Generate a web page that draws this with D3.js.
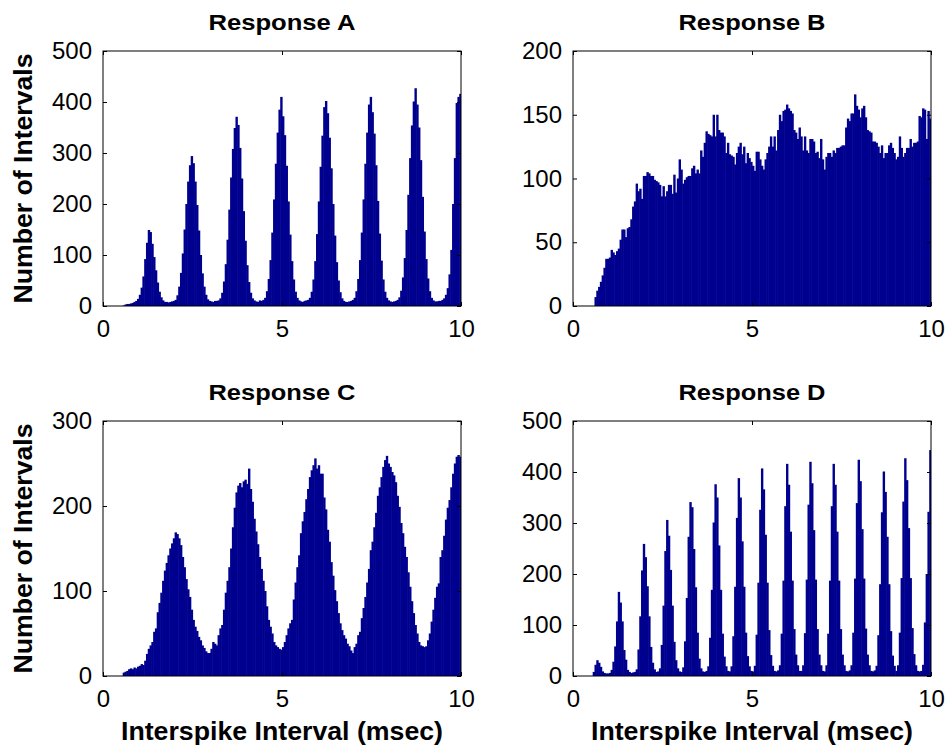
<!DOCTYPE html>
<html>
<head>
<meta charset="utf-8">
<script src="https://cdn.jsdelivr.net/npm/d3@7"></script>
<style>
body{margin:0;background:#fff;}
text{font-family:"Liberation Sans",Arial,Helvetica,sans-serif;}
</style>
</head>
<body>
<svg id="chart" width="947" height="747"></svg>
<script>
// histogram counts, 0.05 msec bins from 0 to 10 msec
const binWidth = 0.05;

const responseA = [
  0,0,0,0,0,0,0,0,0,0,
  0,1,3,4,4,5,6,8,10,14,
  22,36,58,92,124,149,145,122,96,70,
  46,28,17,11,8,8,7,8,9,10,
  12,21,38,65,103,150,200,244,276,294,
  280,244,198,148,100,64,38,22,13,10,
  9,8,10,10,11,15,26,48,82,130,
  189,252,308,349,371,355,310,250,186,128,
  80,47,26,15,11,9,8,11,10,12,
  16,29,53,90,144,209,279,340,385,410,
  372,335,275,205,140,88,52,28,16,11,
  9,8,10,11,12,16,28,52,88,141,
  205,273,334,390,402,378,330,270,200,138,
  86,50,27,15,10,8,8,9,10,12,
  16,29,53,90,144,209,279,340,395,410,
  380,338,276,206,142,89,52,28,16,11,
  9,8,9,10,12,17,30,56,94,149,
  218,290,354,401,427,395,350,286,214,146,
  92,54,29,16,11,9,9,10,10,12,
  15,22,35,62,110,200,290,398,410,416
];

const responseB = [
  0,0,0,0,0,0,0,0,0,0,
  0,0,7,12,15,19,24,30,37,37,
  38,44,42,40,43,45,52,60,60,54,
  61,62,68,78,82,96,90,92,84,102,
  102,105,104,102,102,99,98,97,95,86,
  94,86,90,95,95,88,103,89,100,115,
  107,96,99,101,102,102,108,110,104,107,
  104,122,117,128,137,135,134,133,150,133,
  150,138,136,136,133,120,128,119,118,117,
  111,120,125,128,119,125,112,120,116,113,
  110,106,121,121,115,110,107,115,120,125,
  133,125,133,122,138,150,145,153,154,158,
  155,153,151,138,136,131,140,133,122,133,
  122,120,131,131,129,120,121,116,131,115,
  107,117,120,120,117,122,120,124,124,125,
  126,126,140,147,145,151,151,166,157,154,
  148,155,157,148,138,137,136,129,129,128,
  125,120,126,116,120,120,126,128,124,120,
  115,117,133,124,117,120,124,124,131,125,
  128,128,129,149,148,155,154,131,153,147
];

const responseC = [
  0,0,0,0,0,0,0,0,0,0,
  0,4,5,6,8,9,8,10,9,11,
  12,14,13,18,26,32,36,40,52,56,
  75,86,98,112,124,133,142,150,156,162,
  169,167,162,154,140,128,114,102,93,78,
  66,58,53,46,42,36,33,29,27,27,
  32,40,38,36,48,56,60,78,98,112,
  128,150,175,198,216,224,227,222,229,231,
  226,244,220,205,185,170,155,140,126,112,
  100,82,66,58,50,40,36,34,32,31,
  34,40,48,56,62,66,90,110,128,142,
  168,182,193,208,220,234,242,248,256,244,
  248,238,238,210,196,172,158,134,118,101,
  88,74,62,54,48,44,38,35,30,27,
  34,38,48,52,68,80,93,110,126,148,
  158,175,192,212,222,234,246,254,259,250,
  246,240,236,228,212,199,180,168,152,140,
  122,105,88,74,60,50,40,36,35,34,
  35,42,50,64,78,92,105,109,140,148,
  165,184,198,207,222,238,250,258,260,258
];

const responseD = [
  0,0,0,0,0,0,0,0,0,0,
  0,8,22,31,26,18,9,6,5,5,
  6,12,28,58,107,165,144,107,51,32,
  12,8,6,7,8,13,52,117,207,259,
  233,176,117,57,26,13,8,9,15,61,
  138,245,306,275,208,138,67,31,15,9,
  8,17,68,153,273,341,331,249,174,85,
  34,15,9,8,10,19,75,169,301,376,
  350,256,169,83,38,19,10,9,19,78,
  175,310,388,350,264,175,85,39,19,10,
  9,20,81,183,326,407,366,277,183,90,
  41,20,10,9,11,21,83,187,333,416,
  375,283,187,92,42,21,10,10,21,84,
  189,336,420,378,286,189,92,42,21,10,
  9,21,83,187,333,416,375,283,187,92,
  42,21,10,9,11,21,85,191,339,424,
  382,288,191,93,42,21,10,9,11,20,
  80,180,321,401,361,273,180,88,40,20,
  10,21,85,192,342,427,384,290,192,94,
  43,21,10,9,10,22,105,200,322,443
];

const xTicks = [0, 5, 10];
const yTicksA = [0, 100, 200, 300, 400, 500];
const yTicksB = [0, 50, 100, 150, 200];
const yTicksC = [0, 100, 200, 300];
const yTicksD = [0, 100, 200, 300, 400, 500];
const titles = ["Response A", "Response B", "Response C", "Response D"];
const xLabel = "Interspike Interval (msec)";
const yLabel = "Number of Intervals";

const plotWidth = 358, plotHeight = 255;
const barColor = "#00008f";
const svg = d3.select("#chart");

const panels = [
    {title: titles[0], counts: responseA, yTicks: yTicksA, left: 103, top: 51, showY: true, showX: false},
    {title: titles[1], counts: responseB, yTicks: yTicksB, left: 573, top: 51, showY: false, showX: false},
    {title: titles[2], counts: responseC, yTicks: yTicksC, left: 103, top: 421, showY: true, showX: true},
    {title: titles[3], counts: responseD, yTicks: yTicksD, left: 573, top: 421, showY: false, showX: true}
];

function styleAxis(g){
    g.select(".domain").remove();
    g.selectAll(".tick line").attr("stroke", "#000");
    g.selectAll(".tick text")
        .attr("font-size", 24)
        .attr("font-family", '"Liberation Sans", Arial, sans-serif')
        .attr("fill", "#000");
}

function drawPanel(p){
    let x = d3.scaleLinear().domain([0, 10]).range([0, plotWidth]);
    let y = d3.scaleLinear().domain([0, d3.max(p.yTicks)]).range([plotHeight, 0]);
    let g = svg.append("g").attr("transform", "translate(" + p.left + "," + p.top + ")");
    let barW = x(binWidth) - x(0);

    // bars overlap a little so antialiasing does not leave white seams
    g.append("g").selectAll("rect")
        .data(p.counts)
        .join("rect")
        .attr("x", (d, i) => x(i * binWidth))
        .attr("width", (d, i) => i === p.counts.length - 1 ? barW : barW + 0.6)
        .attr("y", d => y(d))
        .attr("height", d => y(0) - y(d))
        .attr("fill", barColor);

    // ticks point inward on all four sides, like the original
    g.append("g").attr("transform", "translate(0," + plotHeight + ")")
        .call(d3.axisBottom(x).tickValues(xTicks).tickSizeInner(-4).tickSizeOuter(0).tickPadding(14))
        .call(styleAxis);
    g.append("g")
        .call(d3.axisTop(x).tickValues(xTicks).tickSizeInner(-4).tickSizeOuter(0).tickFormat(""))
        .call(styleAxis);
    g.append("g")
        .call(d3.axisLeft(y).tickValues(p.yTicks).tickSizeInner(-4).tickSizeOuter(0).tickPadding(11))
        .call(styleAxis);
    g.append("g").attr("transform", "translate(" + plotWidth + ",0)")
        .call(d3.axisRight(y).tickValues(p.yTicks).tickSizeInner(-4).tickSizeOuter(0).tickFormat(""))
        .call(styleAxis);

    g.append("rect")
        .attr("width", plotWidth).attr("height", plotHeight)
        .attr("fill", "none").attr("stroke", "#000").attr("stroke-width", 1);

    g.append("text")
        .attr("x", plotWidth / 2).attr("y", -21)
        .attr("text-anchor", "middle")
        .attr("font-size", 22).attr("font-weight", "bold")
        .attr("textLength", 147).attr("lengthAdjust", "spacingAndGlyphs")
        .text(p.title);

    if(p.showY){
        g.append("text")
            .attr("transform", "translate(" + (32 - p.left) + "," + (plotHeight / 2) + ") rotate(-90)")
            .attr("text-anchor", "middle")
            .attr("font-size", 25).attr("font-weight", "bold")
            .attr("textLength", 250).attr("lengthAdjust", "spacingAndGlyphs")
            .text(yLabel);
    }
    if(p.showX){
        g.append("text")
            .attr("x", plotWidth / 2).attr("y", plotHeight + 64)
            .attr("text-anchor", "middle")
            .attr("font-size", 25).attr("font-weight", "bold")
            .attr("textLength", 322).attr("lengthAdjust", "spacingAndGlyphs")
            .text(xLabel);
    }
}

panels.forEach(drawPanel);
</script>
</body>
</html>
